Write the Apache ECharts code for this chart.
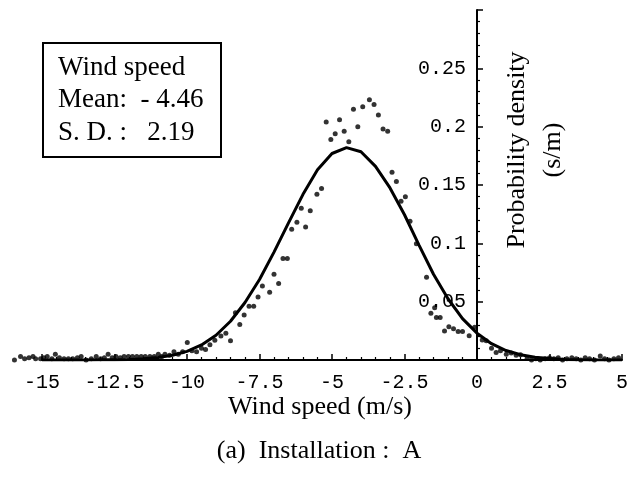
<!DOCTYPE html>
<html><head><meta charset="utf-8">
<script src="https://cdn.jsdelivr.net/npm/echarts@6/dist/echarts.min.js"></script>
<style>html,body{margin:0;padding:0;background:#fff}#c{width:639px;height:488px}</style>
</head><body><div id="c"></div>
<script>
// Fitted density curve (x in m/s, y in s/m)
const curveX = [-15,-14.5,-14,-13.5,-13,-12.5,-12,-11.5,-11,-10.5,-10,-9.5,-9,-8.5,-8,-7.5,-7,-6.5,-6,-5.5,-5,-4.5,-4,-3.5,-3,-2.5,-2,-1.5,-1,-0.5,0,0.5,1,1.5,2,2.5,3,3.5,4,4.5,5];
const curveY = [0,0,0.0001,0.0001,0.0002,0.0002,0.0005,0.0010,0.0021,0.0041,0.0074,0.0129,0.0212,0.0332,0.0493,0.0690,0.0925,0.1175,0.1420,0.1630,0.1770,0.1820,0.1785,0.1660,0.1475,0.1245,0.0985,0.0735,0.0525,0.0355,0.0230,0.0140,0.0081,0.0045,0.0023,0.0012,0.0005,0.0002,0.0001,0,0];
// Measured histogram points [x, density]
const dotPoints = [
 [-15.95,0.000],[-15.74,0.003],[-15.60,0.001],[-15.45,0.002],[-15.31,0.003],[-15.22,0.001],[-15.05,0.001],[-14.94,0.002],
 [-14.82,0.003],[-14.66,0.001],[-14.54,0.005],[-14.40,0.002],[-14.24,0.001],[-14.09,0.001],[-13.94,0.001],[-13.78,0.002],
 [-13.65,0.003],[-13.48,0.000],[-13.30,0.001],[-13.13,0.003],[-12.98,0.001],[-12.85,0.002],[-12.72,0.005],[-12.58,0.002],
 [-12.45,0.003],[-12.30,0.002],[-12.17,0.003],[-12.02,0.003],[-11.88,0.003],[-11.73,0.003],[-11.58,0.003],[-11.44,0.003],
 [-11.28,0.003],[-11.13,0.003],[-10.99,0.005],[-10.87,0.003],[-10.76,0.005],[-10.60,0.004],[-10.45,0.007],[-10.30,0.005],
 [-10.15,0.007],[-9.99,0.015],[-9.83,0.008],[-9.67,0.007],[-9.50,0.010],[-9.36,0.009],[-9.21,0.013],[-9.04,0.017],
 [-8.83,0.0205],[-8.66,0.023],[-8.50,0.0165],[-8.33,0.0405],[-8.18,0.0305],[-8.03,0.0385],[-7.86,0.046],[-7.70,0.046],
 [-7.55,0.054],[-7.40,0.0635],[-7.15,0.058],[-7.00,0.0735],[-6.84,0.0655],[-6.69,0.087],[-6.54,0.087],[-6.39,0.112],
 [-6.21,0.118],[-6.06,0.130],[-5.91,0.114],[-5.75,0.128],[-5.52,0.142],[-5.36,0.147],[-5.20,0.204],[-5.04,0.189],
 [-4.89,0.194],[-4.74,0.206],[-4.58,0.196],[-4.42,0.187],[-4.26,0.215],[-4.11,0.200],[-3.94,0.217],[-3.71,0.223],
 [-3.55,0.219],[-3.40,0.210],[-3.24,0.198],[-3.08,0.196],[-2.93,0.161],[-2.78,0.153],[-2.62,0.136],[-2.47,0.140],
 [-2.31,0.119],[-2.09,0.0997],[-1.74,0.071],[-1.59,0.040],[-1.46,0.0447],[-1.40,0.0365],[-1.27,0.0365],[-1.12,0.0248],
 [-0.97,0.0285],[-0.81,0.0268],[-0.65,0.0245],[-0.50,0.0245],[-0.27,0.0208],[-0.08,0.0280],[0.18,0.0171],[0.32,0.0165],
 [0.50,0.010],[0.66,0.0065],[0.81,0.008],[1.01,0.005],[1.18,0.006],[1.35,0.004],[1.50,0.0045],[1.73,0.0015],
 [1.88,0.000],[2.03,0.001],[2.18,0.000],[2.35,0.001],[2.50,0.002],[2.65,0.001],[2.80,0.002],[2.95,0.000],
 [3.10,0.001],[3.27,0.002],[3.42,0.001],[3.58,0.000],[3.73,0.002],[3.88,0.001],[4.05,0.000],[4.25,0.0035],
 [4.40,0.001],[4.55,0.000],[4.72,0.001],[4.88,0.002]
];
const yTickLabels = ['0.05','0.1','0.15','0.2','0.25'];
const boxLines = ['Wind speed','Mean:  - 4.46','S. D. :   2.19'];
const xTitle = 'Wind speed (m/s)';
const caption = '(a)  Installation :  A';
const yTitle = 'Probability density\n(s/m)';

const serif = '"Liberation Serif","Times New Roman",serif';
const mono = '"Liberation Mono","Courier New",monospace';

const gridLeft = 42, gridRight = 17, W = 639;
const xMin = -15, xMax = 5;
// pixel distance from the grid's left edge to x = 0, used to place the y axis on zero
const zeroOffset = (0 - xMin) / (xMax - xMin) * (W - gridLeft - gridRight);

const chart = echarts.init(document.getElementById('c'));
chart.setOption({
  animation: false,
  backgroundColor: '#fff',
  grid: {left: gridLeft, right: gridRight, top: 10, bottom: 128, containLabel: false, outerBoundsMode: 'none'},
  xAxis: {
    type: 'value', min: xMin, max: xMax, interval: 2.5,
    axisLine: {onZero: false, lineStyle: {color: '#000', width: 2}},
    axisTick: {inside: true, length: 6, lineStyle: {color: '#000', width: 1.5}},
    minorTick: {show: true, splitNumber: 5, length: 3, lineStyle: {color: '#000', width: 1.2}},
    splitLine: {show: false},
    axisLabel: {margin: 13, color: '#000', fontFamily: mono, fontSize: 20}
  },
  yAxis: {
    type: 'value', min: 0, max: 0.3, interval: 0.05,
    position: 'left', offset: -zeroOffset,
    axisLine: {onZero: false, lineStyle: {color: '#000', width: 2}},
    axisTick: {inside: true, length: 6, lineStyle: {color: '#000', width: 1.5}},
    minorTick: {show: true, splitNumber: 5, length: 3, lineStyle: {color: '#000', width: 1.2}},
    splitLine: {show: false},
    axisLabel: {
      margin: 11, color: '#000', fontFamily: mono, fontSize: 20,
      formatter: function (v) {
        const i = Math.round(v / 0.05) - 1;
        return (i >= 0 && i < yTickLabels.length) ? yTickLabels[i] : '';
      }
    }
  },
  series: [
    {
      type: 'line', data: curveX.map((x, i) => [x, curveY[i]]),
      showSymbol: false, lineStyle: {color: '#000', width: 3}, z: 3
    },
    {
      type: 'scatter', data: dotPoints, clip: false,
      symbolSize: 5, itemStyle: {color: '#000'}, z: 4
    }
  ],
  graphic: [
    {type: 'rect', shape: {x: 43, y: 43, width: 178, height: 114}, style: {fill: '#fff', stroke: '#000', lineWidth: 2}, z: 10},
    {type: 'text', x: 58, y: 67.5, style: {text: boxLines[0], font: '27px ' + serif, fill: '#000', verticalAlign: 'middle'}, z: 11},
    {type: 'text', x: 58, y: 100, style: {text: boxLines[1], font: '27px ' + serif, fill: '#000', verticalAlign: 'middle'}, z: 11},
    {type: 'text', x: 58, y: 133, style: {text: boxLines[2], font: '27px ' + serif, fill: '#000', verticalAlign: 'middle'}, z: 11},
    {type: 'text', x: 320, y: 407, style: {text: xTitle, font: '26px ' + serif, fill: '#000', align: 'center', verticalAlign: 'middle'}},
    {type: 'text', x: 319, y: 451, style: {text: caption, font: '26px ' + serif, fill: '#000', align: 'center', verticalAlign: 'middle'}},
    {type: 'text', x: 535, y: 150, rotation: Math.PI / 2,
      style: {text: yTitle, font: '26px ' + serif, fill: '#000', align: 'center', verticalAlign: 'middle', lineHeight: 36}}
  ]
});
</script>
</body></html>
